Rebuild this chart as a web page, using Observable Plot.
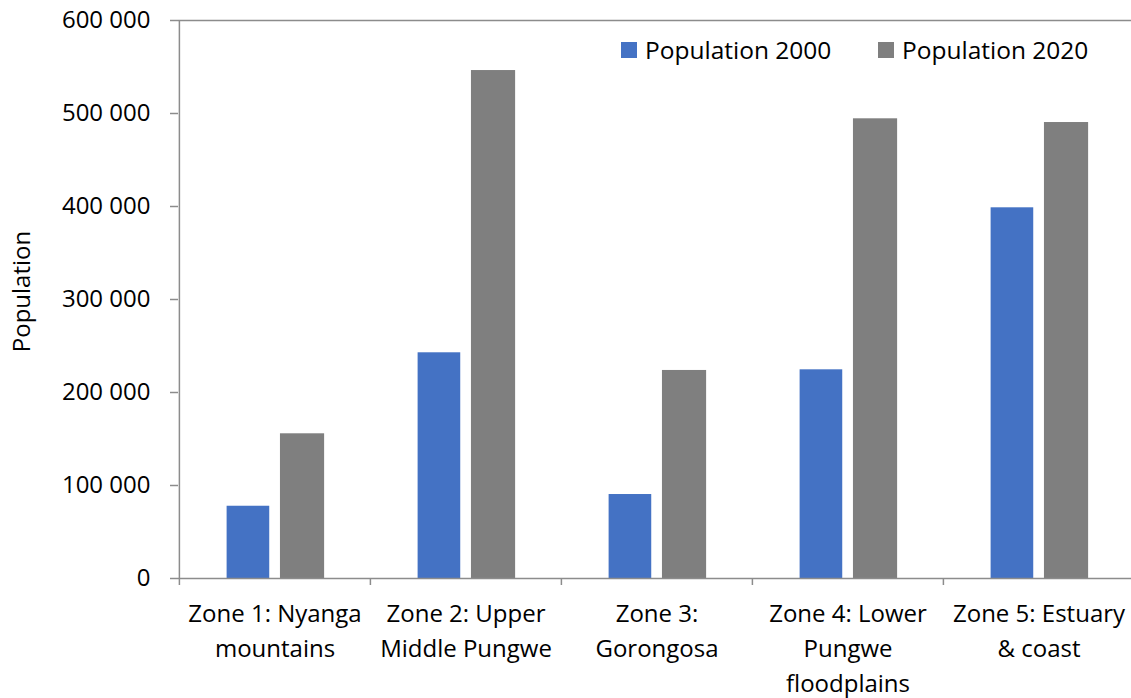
<!DOCTYPE html>
<html>
<head>
<meta charset="utf-8">
<script src="https://cdn.jsdelivr.net/npm/d3@7"></script>
<script src="https://cdn.jsdelivr.net/npm/@observablehq/plot@0.6"></script>
<style>
  html, body { margin: 0; padding: 0; background: #fff; overflow: hidden; }
  #chart { position: relative; width: 1131px; height: 698px; font-family: "Open Sans", sans-serif; }
  .legend { position: absolute; top: 33px; display: flex; align-items: center; font-size: 24.5px; color: #000; white-space: nowrap; }
  .legend .sw { width: 16px; height: 16px; margin-right: 8px; }
</style>
</head>
<body>
<div id="chart"></div>
<script>
const zones = ["Zone 1", "Zone 2", "Zone 3", "Zone 4", "Zone 5"];
const zoneLabels = [
  "Zone 1: Nyanga\nmountains",
  "Zone 2: Upper\nMiddle Pungwe",
  "Zone 3:\nGorongosa",
  "Zone 4: Lower\nPungwe\nfloodplains",
  "Zone 5: Estuary\n& coast"
];
const pop2000 = [77700, 242700, 90300, 224400, 398600];
const pop2020 = [155600, 546200, 223700, 494300, 490300];
const seriesNames = ["Population 2000", "Population 2020"];
const seriesColors = ["#4472C4", "#7F7F7F"];
const yTicks = [0, 100000, 200000, 300000, 400000, 500000, 600000];

const W = 1131, H = 698;
const mL = 178, mR = -3, mT = 20, mB = 120;
const band = (W - mL - mR) / zones.length;
const axisColor = "#8c8c8c";

const rows2000 = zones.map((z, i) => ({zone: z, value: pop2000[i]}));
const rows2020 = zones.map((z, i) => ({zone: z, value: pop2020[i]}));
const labelOf = Object.fromEntries(zones.map((z, i) => [z, zoneLabels[i]]));
const fmt = d => d3.format(",")(d).replace(/,/g, " ");

const plot = Plot.plot({
  width: W,
  height: H,
  marginLeft: mL,
  marginRight: mR,
  marginTop: mT,
  marginBottom: mB,
  style: {fontFamily: "Open Sans, sans-serif", fontSize: "24px", color: "#000", background: "#fff", overflow: "visible"},
  x: {domain: zones, padding: 0, axis: null},
  y: {domain: [0, 600000], axis: null},
  marks: [
    Plot.barY(rows2000, {x: "zone", y: "value", fill: seriesColors[0], insetLeft: band * 0.249, insetRight: band * 0.527}),
    Plot.barY(rows2020, {x: "zone", y: "value", fill: seriesColors[1], insetLeft: band * 0.528, insetRight: band * 0.24}),
    Plot.ruleY([0, 600000], {stroke: axisColor, strokeWidth: 1.5}),
    Plot.ruleX([zones[0]], {x: d => d, dx: -band / 2, y1: 0, y2: 600000, stroke: axisColor, strokeWidth: 1.5}),
    Plot.ruleX(zones, {x: d => d, dx: -band / 2, y1: 0, y2: 0, insetBottom: -7, stroke: axisColor, strokeWidth: 1.5}),
    Plot.axisY({ticks: yTicks, tickFormat: fmt, tickSize: 8, tickPadding: 20, stroke: axisColor, strokeWidth: 1.5, fontSize: 24, fill: "#000", label: null}),
    Plot.axisX({tickSize: 0, tickPadding: 19, tickFormat: d => labelOf[d], fontSize: 24, lineHeight: 1.45, fill: "#000", label: null}),
    Plot.text(["Population"], {frameAnchor: "left", textAnchor: "middle", dx: -156, dy: -8, rotate: -90, fontSize: 24, fill: "#000"})
  ]
});

const chart = document.getElementById("chart");
chart.appendChild(plot);

const legendPos = [621, 878];
seriesNames.forEach((name, i) => {
  const item = document.createElement("div");
  item.className = "legend";
  item.style.left = legendPos[i] + "px";
  const sw = document.createElement("div");
  sw.className = "sw";
  sw.style.background = seriesColors[i];
  const t = document.createElement("span");
  t.textContent = name;
  item.appendChild(sw);
  item.appendChild(t);
  chart.appendChild(item);
});
</script>
</body>
</html>
